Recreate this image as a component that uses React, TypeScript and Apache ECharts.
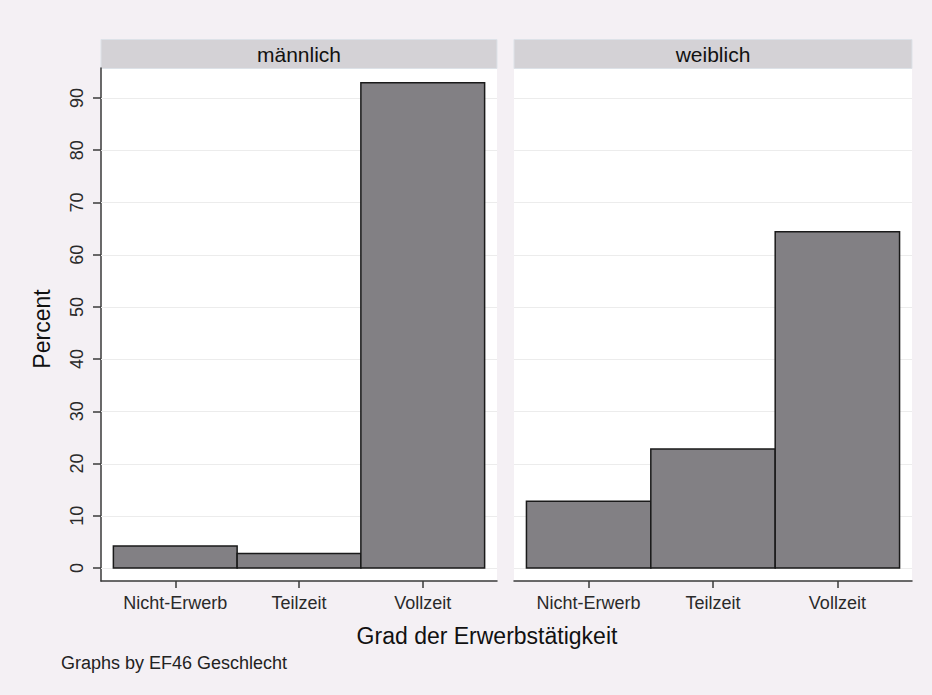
import React, { useEffect, useRef } from "react";
import * as echarts from "echarts";

const categories = ["Nicht-Erwerb", "Teilzeit", "Vollzeit"];
const panels = ["männlich", "weiblich"];
const maleValues = [4.2, 2.8, 92.9];
const femaleValues = [12.8, 22.8, 64.4];
const yTicks = [0, 10, 20, 30, 40, 50, 60, 70, 80, 90];
const xTicks = [1, 2, 3];
const yTitle = "Percent";
const xTitle = "Grad der Erwerbstätigkeit";
const note = "Graphs by EF46 Geschlecht";

const FONT = "Liberation Sans, Arial, sans-serif";
const BG = "#f4f0f4";
const BAR = "#828084";
const EDGE = "#1a1a1a";
const AXIS = "#3a3a3a";
const GRIDC = "#ececec";

export default function App() {
  const ref = useRef<HTMLDivElement>(null);
  useEffect(() => {
    if (!ref.current) return;
    const chart = echarts.init(ref.current, undefined, { renderer: "svg" });

    const grids = [
      { left: 101, top: 68, width: 396, height: 513 },
      { left: 514, top: 68, width: 398, height: 513 },
    ];

    const barRender = (params: any, api: any) => {
      const x = api.value(0);
      const v = api.value(1);
      const p0 = api.coord([x - 0.5, v]);
      const p1 = api.coord([x + 0.5, 0]);
      return {
        type: "rect",
        shape: { x: p0[0], y: p0[1], width: p1[0] - p0[0], height: p1[1] - p0[1] },
        style: { fill: BAR, stroke: EDGE, lineWidth: 1.5 },
      };
    };
    const gridRender = (params: any, api: any) => {
      const cs = params.coordSys;
      const y = Math.round(api.coord([1, api.value(0)])[1]) + 0.5;
      return {
        type: "line",
        shape: { x1: cs.x, y1: y, x2: cs.x + cs.width, y2: y },
        style: { stroke: GRIDC, lineWidth: 1 },
      };
    };

    const xAxisBase = (i: number) => ({
      type: "value",
      gridIndex: i,
      min: 0.4,
      max: 3.6,
      axisLine: { show: true, onZero: false, lineStyle: { color: AXIS, width: 1.5 } },
      axisTick: { show: true, length: 7, customValues: xTicks, lineStyle: { color: AXIS, width: 1.5 } },
      axisLabel: {
        show: true,
        customValues: xTicks,
        margin: 13,
        fontSize: 18,
        fontFamily: FONT,
        color: "#2a2a2a",
        formatter: (v: number) => categories[Math.round(v) - 1] ?? "",
      },
      splitLine: { show: false },
    });

    const yAxisBase = (i: number) => ({
      type: "value",
      gridIndex: i,
      min: -2.489,
      max: 95.74,
      axisLine: { show: i === 0, lineStyle: { color: AXIS, width: 1.5 } },
      axisTick: { show: i === 0, length: 8, customValues: yTicks, lineStyle: { color: AXIS, width: 1.5 } },
      axisLabel: {
        show: i === 0,
        customValues: yTicks,
        rotate: 90,
        margin: 15,
        fontSize: 18,
        fontFamily: FONT,
        color: "#2a2a2a",
      },
      splitLine: { show: false },
    });

    const option: any = {
      animation: false,
      backgroundColor: BG,
      grid: grids.map((g) => ({ ...g, show: true, backgroundColor: "#ffffff", borderWidth: 0, containLabel: false })),
      xAxis: [xAxisBase(0), xAxisBase(1)],
      yAxis: [yAxisBase(0), yAxisBase(1)],
      series: [
        ...[0, 1].map((i) => ({
          type: "custom",
          xAxisIndex: i,
          yAxisIndex: i,
          z: 1,
          silent: true,
          renderItem: gridRender,
          data: yTicks.map((t) => [t]),
          encode: { y: 0 },
        })),
        ...[maleValues, femaleValues].map((vals, i) => ({
          type: "custom",
          xAxisIndex: i,
          yAxisIndex: i,
          z: 2,
          renderItem: barRender,
          data: vals.map((v, k) => [xTicks[k], v]),
          encode: { x: 0, y: 1 },
        })),
      ],
      graphic: [
        ...grids.map((g, i) => ({
          type: "group",
          children: [
            {
              type: "rect",
              shape: { x: g.left, y: 39.5, width: g.width, height: 29 },
              style: { fill: "#d4d2d6", stroke: "#dde2e8", lineWidth: 1 },
            },
            {
              type: "text",
              x: g.left + g.width / 2,
              y: 54,
              style: {
                text: panels[i],
                fontSize: 21,
                fontFamily: FONT,
                fill: "#111",
                align: "center",
                verticalAlign: "middle",
              },
            },
          ],
        })),
        {
          type: "text",
          x: 42,
          y: 329,
          rotation: Math.PI / 2,
          style: {
            text: yTitle,
            fontSize: 23,
            fontFamily: FONT,
            fill: "#111",
            align: "center",
            verticalAlign: "middle",
          },
        },
        {
          type: "text",
          x: 487,
          y: 636,
          style: {
            text: xTitle,
            fontSize: 23,
            fontFamily: FONT,
            fill: "#111",
            align: "center",
            verticalAlign: "middle",
          },
        },
        {
          type: "text",
          x: 61,
          y: 663,
          style: {
            text: note,
            fontSize: 18,
            fontFamily: FONT,
            fill: "#222",
            align: "left",
            verticalAlign: "middle",
          },
        },
      ],
    };
    chart.setOption(option);
    return () => chart.dispose();
  }, []);
  return (
    <div
      ref={ref}
      style={{ position: "absolute", left: 0, top: 0, width: 932, height: 695 }}
    />
  );
}
